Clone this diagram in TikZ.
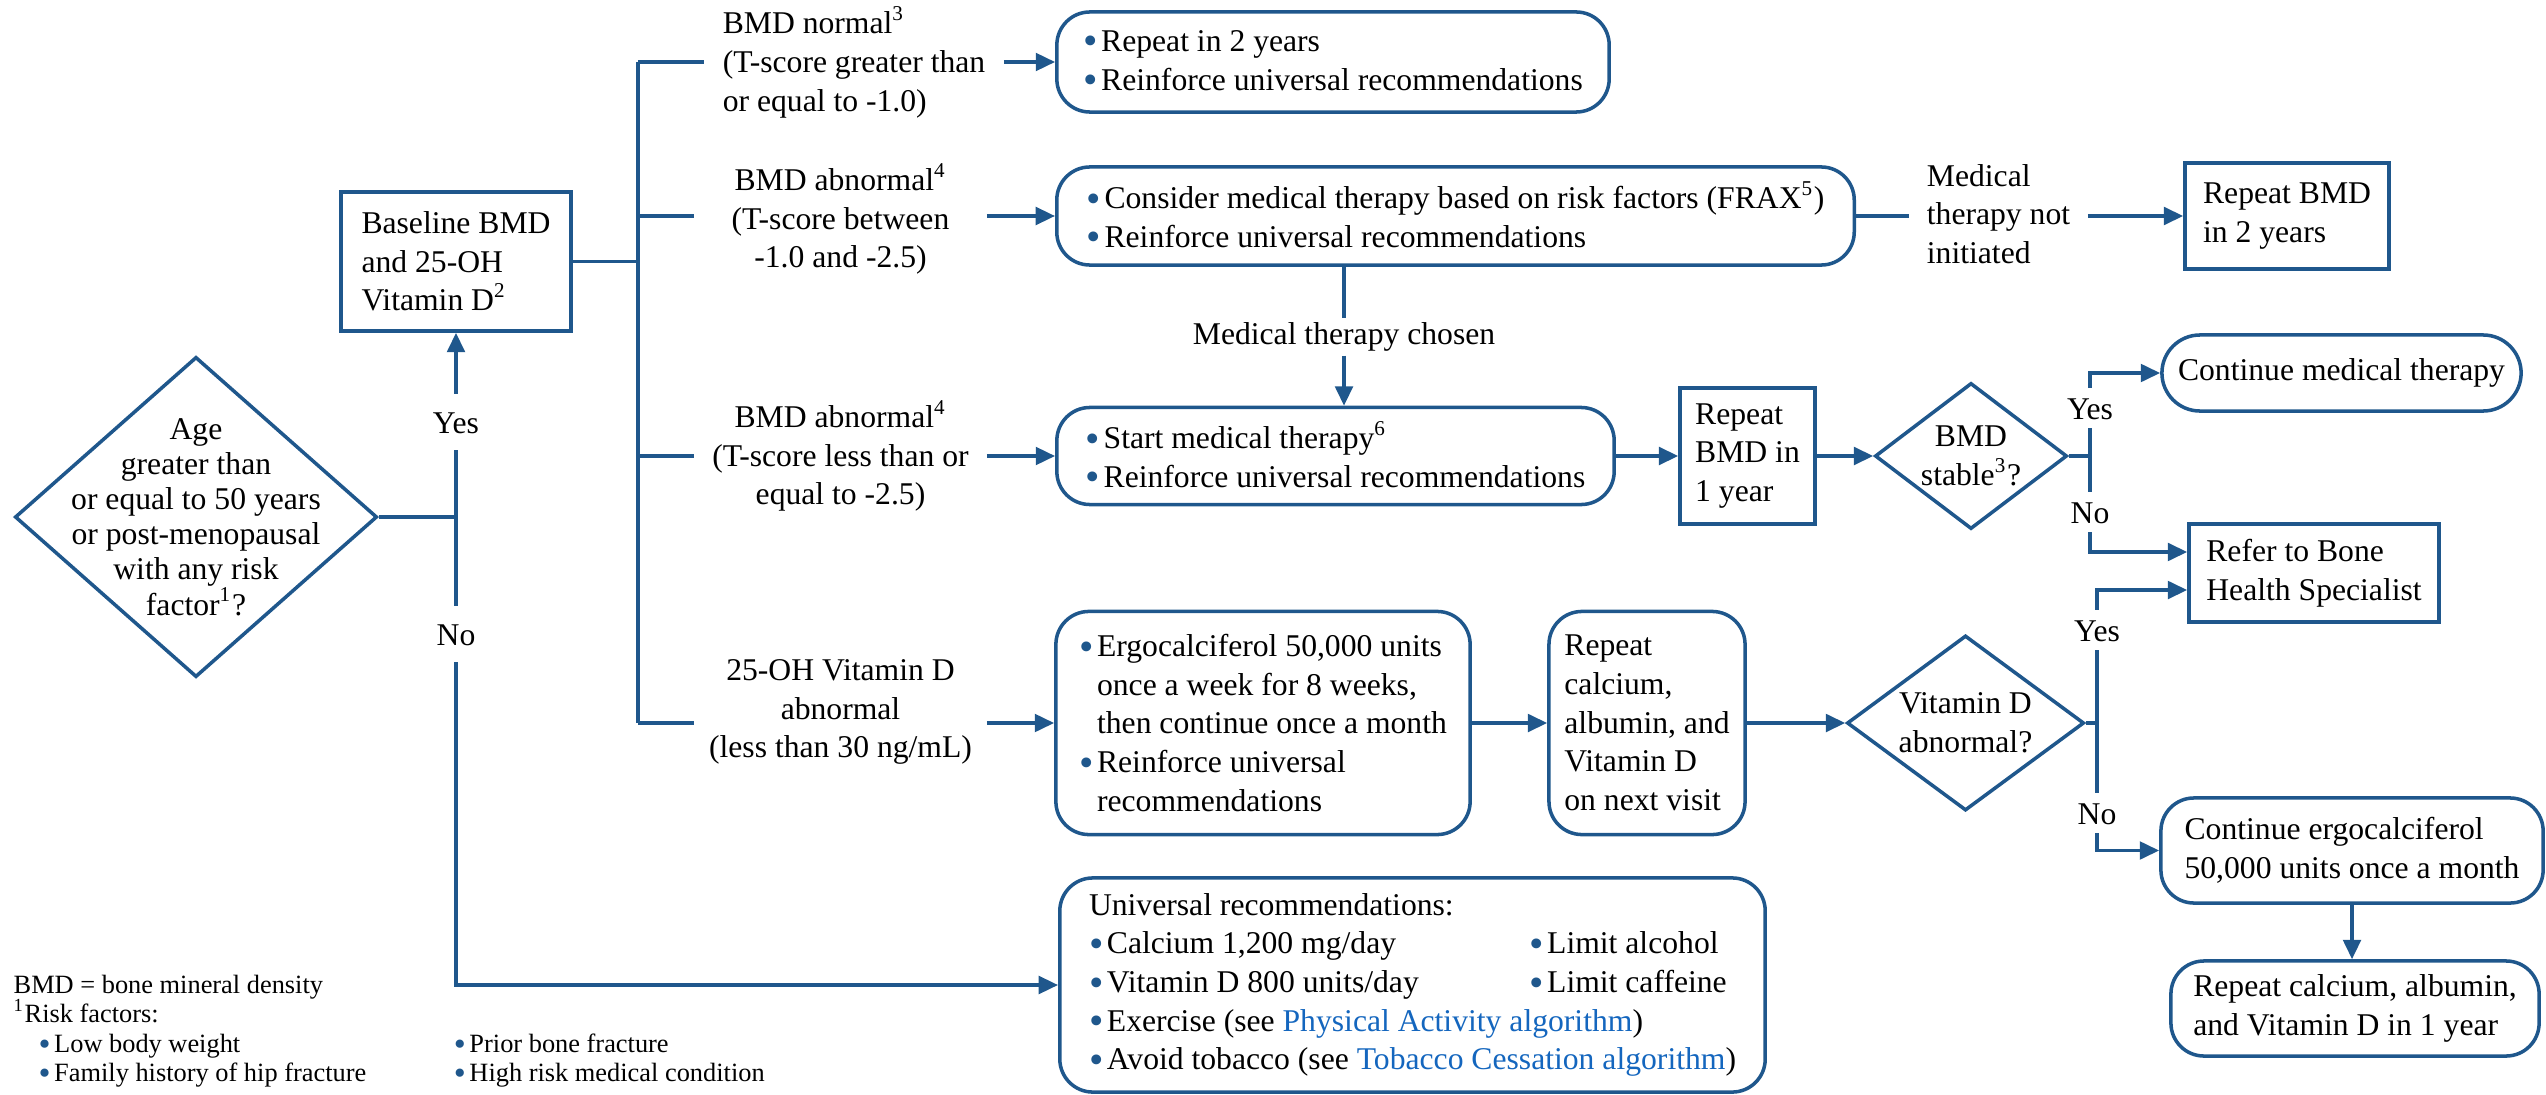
\documentclass[tikz,border=0pt]{standalone}
\usepackage{fontspec}
\setmainfont{Liberation Serif}
\usepackage{xcolor,graphicx}
\usetikzlibrary{shapes.geometric,arrows.meta}

\definecolor{algblue}{RGB}{31,87,140}
\definecolor{linkblue}{RGB}{20,102,190}
\newcommand{\bul}{\raisebox{-0.25ex}{\scalebox{1.3}{\color{algblue}\textbullet}}\hspace{1pt}}
\newcommand{\ind}{\hphantom{\bul}}

\begin{document}
\begin{tikzpicture}
      [x=0.01cm, y=-0.01cm, font=\fontsize{9}{11}\selectfont,
       flow/.style={draw=algblue, line width=1pt},
       arr/.style={flow, -{Triangle[length=5.5pt,width=5pt]}},
       sqbox/.style={draw=algblue, line width=1pt, align=left, inner sep=2pt},
       rndbox/.style={sqbox, rounded corners=0.33cm},
       decision/.style={diamond, draw=algblue, line width=1pt, inner sep=0pt},
       lbl/.style={align=center, inner sep=1pt},
       yn/.style={fill=white, inner xsep=1pt, inner ysep=2.5pt, text height=6.5pt, text depth=0pt}]

\useasboundingbox (0,0) rectangle (2546,1094);
\clip (0,0) rectangle (2546,1094);

%entry question and baseline tests
  \node[decision, minimum width=3.62cm, minimum height=3.2cm] (age) at (196,517) {};
  \node[lbl, font=\fontsize{9}{10}\selectfont] (agetxt) at (age.center)
    {Age\\greater than\\or equal to 50 years\\or post-menopausal\\with any risk\\factor\textsuperscript{1}?};
  \node[sqbox, minimum width=2.3cm, minimum height=1.39cm] (base) at (456,261.5)
    {Baseline BMD\\and 25-OH\\Vitamin D\textsuperscript{2}};

%branch texts
  \node[lbl, align=left, minimum width=2.98cm] (normtxt) at (854,62)
    {BMD normal\textsuperscript{3}\\(T-score greater than\\or equal to -1.0)};
  \node[lbl, minimum width=2.91cm] (osteotxt) at (840.5,219)
    {BMD abnormal\textsuperscript{4}\\(T-score between\\-1.0 and -2.5)};
  \node[lbl, minimum width=2.91cm] (porotxt) at (840.5,456)
    {BMD abnormal\textsuperscript{4}\\(T-score less than or\\equal to -2.5)};
  \node[lbl, minimum width=2.91cm] (vitdtxt) at (840.5,712)
    {25-OH Vitamin D\\abnormal\\(less than 30 ng/mL)};

%BMD boxes
  \node[rndbox, minimum width=5.52cm, minimum height=1cm] (norm) at (1333,62)
    {\bul Repeat in 2 years\\\bul Reinforce universal recommendations};
  \node[rndbox, minimum width=7.97cm, minimum height=0.98cm] (consider) at (1455.5,216)
    {\bul Consider medical therapy based on risk factors (FRAX\textsuperscript{5})\\\bul Reinforce universal recommendations};
  \node[lbl, align=left, minimum width=1.77cm] (mtni) at (1998.5,214)
    {Medical\\therapy not\\initiated};
  \node[sqbox, minimum width=2.04cm, minimum height=1.06cm] (rep2) at (2287,216)
    {Repeat BMD\\in 2 years};
  \node[lbl] (chosen) at (1344,337) {Medical therapy chosen};
  \node[rndbox, minimum width=5.57cm, minimum height=0.97cm] (startmt) at (1335.5,456)
    {\bul Start medical therapy\textsuperscript{6}\\\bul Reinforce universal recommendations};
  \node[sqbox, minimum width=1.35cm, minimum height=1.36cm] (rep1) at (1747.5,456)
    {Repeat\\BMD in\\1 year};
  \node[decision, minimum width=1.92cm, minimum height=1.46cm] (stable) at (1971,456) {};
  \node[lbl] (stabletxt) at (stable.center) {BMD\\stable\textsuperscript{3}?};
  \node[rndbox, rounded corners=0.38cm, minimum width=3.59cm, minimum height=0.76cm] (contmt) at (2341.5,373)
    {Continue medical therapy};
  \node[sqbox, minimum width=2.5cm, minimum height=0.98cm] (refer) at (2314,573)
    {Refer to Bone\\Health Specialist};

%vitamin D boxes
  \node[rndbox, minimum width=4.14cm, minimum height=2.23cm] (ergo) at (1263,723)
    {\bul Ergocalciferol 50,000 units\\\ind once a week for 8 weeks,\\\ind then continue once a month\\\bul Reinforce universal\\\ind recommendations};
  \node[rndbox, minimum width=1.96cm, minimum height=2.23cm] (recheck) at (1647,723)
    {Repeat\\calcium,\\albumin, and\\Vitamin D\\on next visit};
  \node[decision, minimum width=2.37cm, minimum height=1.75cm] (vitd) at (1965.5,723) {};
  \node[lbl] (vitdq) at (vitd.center) {Vitamin D\\abnormal?};
  \node[rndbox, minimum width=3.82cm, minimum height=1.05cm] (contergo) at (2352,850.5)
    {Continue ergocalciferol\\50,000 units once a month};
  \node[rndbox, minimum width=3.68cm, minimum height=0.95cm] (recheck1y) at (2355,1008.5)
    {Repeat calcium, albumin,\\and Vitamin D in 1 year};

%universal recommendations and legend
  \node[rndbox, minimum width=7.05cm, minimum height=2.14cm] (univ) at (1412.5,985)
    {Universal recommendations:\\
     \makebox[4.4cm][l]{\bul Calcium 1,200 mg/day}\bul Limit alcohol\\
     \makebox[4.4cm][l]{\bul Vitamin D 800 units/day}\bul Limit caffeine\\
     \bul Exercise (see \textcolor{linkblue}{Physical Activity algorithm})\\
     \bul Avoid tobacco (see \textcolor{linkblue}{Tobacco Cessation algorithm})};
  \node[anchor=west, align=left, inner sep=0pt, font=\fontsize{7.5}{8.4}\selectfont] (legend) at (13,1031)
    {BMD = bone mineral density\\
     \textsuperscript{1}Risk factors:\\
     \hspace*{0.25cm}\makebox[4.15cm][l]{\bul Low body weight}\bul Prior bone fracture\\
     \hspace*{0.25cm}\makebox[4.15cm][l]{\bul Family history of hip fracture}\bul High risk medical condition};

%connectors: yes/no trunk
  \coordinate (yn) at (age.east -| base.south);
  \draw[flow] (age.east) -- (yn);
  \draw[arr] (yn) -- (base.south);
  \draw[arr] (yn) |- (univ.west);
  \node[yn, inner ysep=4.8pt] (yes1) at (456,422) {Yes};
  \node[yn, inner ysep=4.8pt] (no1) at (456,634) {No};

%connectors: result bus
  \coordinate (bustop) at (638,62);
  \coordinate (busbot) at (638,723);
  \draw[flow] (bustop) -- (busbot);
  \draw[flow] (base.east) -- (base.east -| bustop);
  \draw[flow] (bustop) -- (normtxt.west);
  \draw[arr] (normtxt.east) -- (norm.west);
  \draw[flow] (consider.west -| bustop) -- (consider.west -| osteotxt.west);
  \draw[arr] (consider.west -| osteotxt.east) -- (consider.west);
  \draw[flow] (startmt.west -| bustop) -- (porotxt.west);
  \draw[arr] (porotxt.east) -- (startmt.west);
  \draw[flow] (busbot) -- (busbot -| vitdtxt.west);
  \draw[arr] (ergo.west -| vitdtxt.east) -- (ergo.west);

%connectors: therapy path
  \draw[flow] (consider.east) -- (consider.east -| mtni.west);
  \draw[arr] (consider.east -| mtni.east) -- (rep2.west);
  \draw[flow] (chosen |- consider.south) -- (chosen.north);
  \draw[arr] (chosen.south) -- (chosen |- startmt.north);
  \draw[arr] (startmt.east) -- (rep1.west);
  \draw[arr] (rep1.east) -- (stable.west);
  \coordinate (sj) at (2090,456);
  \draw[flow] (stable.east) -- (sj);
  \draw[arr] (sj) |- (contmt.west);
  \draw[arr] (sj) |- ([yshift=0.21cm]refer.west);
  \node[yn] (yes2) at (2090,408) {Yes};
  \node[yn] (no2) at (2090,512) {No};

%connectors: vitamin D path
  \draw[arr] (ergo.east) -- (recheck.west);
  \draw[arr] (recheck.east) -- (vitd.west);
  \coordinate (vj) at (2097,723);
  \draw[flow] (vitd.east) -- (vj);
  \draw[arr] (vj) |- ([yshift=-0.17cm]refer.west);
  \draw[arr] (vj) |- (contergo.west);
  \node[yn] (yes3) at (2097,630) {Yes};
  \node[yn] (no3) at (2097,813) {No};
  \draw[arr] (contergo.south) -- (contergo.south |- recheck1y.north);

\end{tikzpicture}
\end{document}
